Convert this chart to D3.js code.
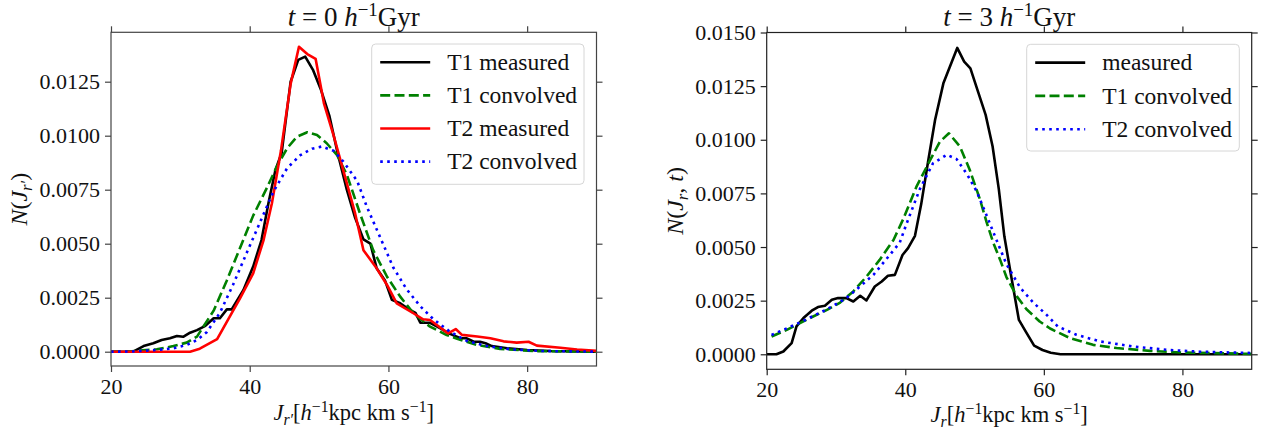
<!DOCTYPE html>
<html>
<head>
<meta charset="utf-8">
<script src="https://cdn.jsdelivr.net/npm/d3@7"></script>
<style>
  body { margin: 0; background: #fff; }
  svg { display: block; }
</style>
</head>
<body>
<div class="chart"></div>
<script>
// ---- data ----
// left panel, t = 0
const t0T1MeasX = [20, 23.2, 24.7, 26.1, 27.3, 28.5, 29.5, 30.4, 31.4, 32.4, 33.6, 34.8, 35.7, 36.7, 37.4, 39.1, 40.5, 41.7, 42.7, 43.7, 44.6, 45.9, 47.0, 48.0, 49.1, 50.3, 51.5, 52.6, 54.0, 55.2, 56.4, 57.4, 58.3, 59.5, 60.5, 61.7, 63.1, 63.9, 64.6, 66.0, 67.5, 68.7, 70.4, 71.3, 72.3, 73.2, 74.0, 74.9, 77.1, 80.0, 83.4, 90];
const t0T1MeasY = [0, 0, 0.00026, 0.00039, 0.00054, 0.00062, 0.00073, 0.00069, 0.00088, 0.0010, 0.0012, 0.00155, 0.00155, 0.00196, 0.00196, 0.00286, 0.00394, 0.00517, 0.00687, 0.0084, 0.0092, 0.0125, 0.01351, 0.01366, 0.01306, 0.0121, 0.0109, 0.0093, 0.0075, 0.0062, 0.0052, 0.0050, 0.00386, 0.0033, 0.0024, 0.00224, 0.00193, 0.0018, 0.00134, 0.00134, 0.00108, 0.00085, 0.00062, 0.00062, 0.00046, 0.00046, 0.00039, 0.00026, 0.00016, 0.00008, 0.00003, 0];

const t0T2MeasX = [20, 31.4, 32.8, 35.3, 38.6, 40.5, 42.0, 43.2, 44.5, 45.9, 47.1, 48.3, 49.5, 50.7, 52.1, 54.0, 55.2, 56.4, 58.3, 59.8, 61.2, 63.6, 65.0, 66.0, 68.6, 69.7, 70.6, 72.8, 74.7, 76.6, 78.5, 80.2, 81.4, 84.8, 87.2, 90];
const t0T2MeasY = [0, 0, 0.00014, 0.00058, 0.00247, 0.00363, 0.00517, 0.00687, 0.0093, 0.0124, 0.01412, 0.01378, 0.01356, 0.0115, 0.0100, 0.0078, 0.0064, 0.0047, 0.00386, 0.00309, 0.00224, 0.00178, 0.0015, 0.00147, 0.00085, 0.00105, 0.00078, 0.00070, 0.00062, 0.00048, 0.00042, 0.00046, 0.00028, 0.00018, 0.00010, 0.00004];

const t0T1ConvX = [20, 23, 26.6, 29, 30.9, 32.4, 34.8, 36.7, 38.6, 40.5, 42.5, 43.9, 45.4, 46.8, 48.3, 49.7, 51.1, 52.6, 54.0, 55.9, 57.8, 59.8, 61.7, 63.6, 66.0, 68.4, 69.9, 72.8, 76.1, 81, 90];
const t0T1ConvY = [0, 0.00002, 0.00011, 0.00026, 0.00042, 0.0007, 0.0019, 0.0033, 0.0048, 0.0063, 0.0076, 0.00857, 0.00942, 0.00995, 0.01016, 0.01003, 0.00965, 0.0091, 0.0082, 0.0064, 0.0047, 0.00347, 0.00255, 0.00178, 0.00116, 0.00077, 0.0006, 0.00031, 0.00013, 0.00003, 0];

const t0T2ConvX = [20, 23, 26.6, 29, 30.9, 32.4, 33.8, 35.7, 37.6, 39.6, 41.5, 43.4, 45.4, 47.3, 49.0, 50.4, 52.1, 53.5, 55.5, 56.9, 58.8, 60.7, 62.6, 64.6, 66.5, 68.9, 71.3, 74.2, 77.6, 82.4, 90];
const t0T2ConvY = [0, 0.00001, 0.00008, 0.00016, 0.00031, 0.00054, 0.0009, 0.0018, 0.0031, 0.0046, 0.0060, 0.0074, 0.0085, 0.0091, 0.0094, 0.0095, 0.0093, 0.0088, 0.0079, 0.0067, 0.0053, 0.0039, 0.0029, 0.0021, 0.0015, 0.00092, 0.0005, 0.00026, 0.00011, 0.00003, 0];

// right panel, t = 3
const t3MeasX = [20, 21.4, 22.4, 23.6, 24.3, 25.3, 26.5, 27.4, 28.4, 29.4, 30.3, 31.5, 32.5, 33.5, 34.4, 35.6, 36.6, 37.5, 38.5, 39.6, 40.4, 41.4, 42.3, 43.3, 44.3, 45.5, 47.5, 48.5, 49.4, 50.5, 51.6, 52.6, 53.5, 54.3, 55.2, 56.4, 57.5, 58.6, 59.8, 61.0, 62.4, 90];
const t3MeasY = [0, 0, 0.00013, 0.00052, 0.0013, 0.00169, 0.00203, 0.0022, 0.00226, 0.00254, 0.00262, 0.00262, 0.00246, 0.00273, 0.00251, 0.00316, 0.00339, 0.00366, 0.0037, 0.00463, 0.00495, 0.00552, 0.0070, 0.0090, 0.01092, 0.01263, 0.01428, 0.01364, 0.01333, 0.01224, 0.01116, 0.0097, 0.0077, 0.0055, 0.0038, 0.0016, 0.0010, 0.0004, 0.0002, 0.00007, 0, 0];

const t3T1ConvX = [20.7, 22.9, 24.8, 26.7, 28.7, 30.6, 32.5, 34.4, 36.3, 38.3, 39.7, 41.6, 43.6, 45.0, 46.3, 47.9, 49.3, 50.8, 51.7, 52.7, 53.7, 54.6, 56.1, 57.5, 59.4, 60.9, 63.8, 67.1, 70.5, 75.3, 80.1, 90];
const t3T1ConvY = [0.00083, 0.00114, 0.00145, 0.00176, 0.00207, 0.00241, 0.00293, 0.00362, 0.0044, 0.00533, 0.0063, 0.0078, 0.00906, 0.00991, 0.0103, 0.00968, 0.0086, 0.0072, 0.0062, 0.0052, 0.0044, 0.0036, 0.0027, 0.0021, 0.00153, 0.0012, 0.00075, 0.00044, 0.00029, 0.00016, 0.00008, 0.00002];

const t3T2ConvX = [20.7, 24.8, 28.7, 31.5, 35.4, 39.2, 40.2, 42.1, 44.0, 46.0, 47.4, 48.9, 50.3, 51.7, 53.2, 54.6, 56.6, 58.5, 60.4, 62.0, 64.7, 68.1, 72.9, 77.7, 82.5, 90];
const t3T2ConvY = [0.0009, 0.00148, 0.0021, 0.00262, 0.0037, 0.0052, 0.0061, 0.0077, 0.0089, 0.0093, 0.0091, 0.0084, 0.0076, 0.0065, 0.0053, 0.0042, 0.0031, 0.0024, 0.00184, 0.0013, 0.00091, 0.0006, 0.00036, 0.00021, 0.00012, 0.00006];

const xTicks = [20, 40, 60, 80];
const yTicksLeft = [0, 0.0025, 0.005, 0.0075, 0.01, 0.0125];
const yTicksRight = [0, 0.0025, 0.005, 0.0075, 0.01, 0.0125, 0.015];

const W = 1268, H = 438;
const FONT = "'Liberation Serif', 'DejaVu Serif', serif";
const LW = 2.6;

const svg = d3.select(".chart").append("svg")
    .attr("width", W)
    .attr("height", H)
    .style("font-family", FONT);

const zip = (xs, ys) => xs.map((x, i) => [x, ys[i]]);

// write simple math text: segments with italic / sup / sub flags
function mathText(sel, segs, size) {
    let shift = 0;
    segs.forEach((s) => {
        const fs = s.sup || s.sub ? size * 0.7 : size;
        const target = s.sup ? -size * 0.36 : s.sub ? size * 0.22 : 0;
        sel.append("tspan")
            .attr("dy", target - shift)
            .attr("font-size", fs)
            .attr("font-style", s.i ? "italic" : "normal")
            .text(s.t);
        shift = target;
    });
}

function drawPanel(p) {
    const x = d3.scaleLinear().domain([20, 90]).range([p.left, p.right]);
    const y = d3.scaleLinear().domain(p.yDomain).range([p.bottom, p.top]);
    const g = svg.append("g");

    const clipId = "clip" + p.id;
    svg.append("clipPath").attr("id", clipId)
        .append("rect")
        .attr("x", p.left).attr("y", p.top)
        .attr("width", p.right - p.left).attr("height", p.bottom - p.top);

    const axisStyle = (a) => {
        a.attr("font-family", null).attr("font-size", null);
        a.select(".domain").remove();
        a.selectAll(".tick line").attr("stroke", p.axisColor).attr("stroke-width", 1.2);
        a.selectAll(".tick text")
            .style("font-family", FONT)
            .style("font-size", "22px")
            .attr("fill", "#111");
    };

    g.append("g").attr("transform", `translate(0,${p.bottom})`)
        .call(d3.axisBottom(x).tickValues(xTicks).tickFormat(d3.format("d")).tickSize(6).tickPadding(6))
        .call(axisStyle);
    g.append("g").attr("transform", `translate(0,${p.top})`)
        .call(d3.axisTop(x).tickValues(xTicks).tickFormat("").tickSize(6))
        .call(axisStyle);
    g.append("g").attr("transform", `translate(${p.left},0)`)
        .call(d3.axisLeft(y).tickValues(p.yTicks).tickFormat(d3.format(".4f")).tickSize(6).tickPadding(5))
        .call(axisStyle);
    g.append("g").attr("transform", `translate(${p.right},0)`)
        .call(d3.axisRight(y).tickValues(p.yTicks).tickFormat("").tickSize(6))
        .call(axisStyle);

    const line = d3.line().x((d) => x(d[0])).y((d) => y(d[1]));
    const lines = g.append("g").attr("clip-path", `url(#${clipId})`);
    p.series.forEach((s) => {
        lines.append("path")
            .datum(s.data)
            .attr("fill", "none")
            .attr("stroke", s.color)
            .attr("stroke-width", LW)
            .attr("stroke-linejoin", "round")
            .attr("stroke-dasharray", s.dash || null)
            .attr("d", line);
    });

    g.append("rect")
        .attr("x", p.left).attr("y", p.top)
        .attr("width", p.right - p.left).attr("height", p.bottom - p.top)
        .attr("fill", "none").attr("stroke", p.axisColor).attr("stroke-width", 1.2);

    // legend
    const lg = g.append("g");
    lg.append("rect")
        .attr("x", p.legend.x).attr("y", p.legend.y)
        .attr("width", p.legend.w).attr("height", p.legend.h)
        .attr("rx", 4)
        .attr("fill", "#fff").attr("fill-opacity", 0.8)
        .attr("stroke", "#d6d6d6").attr("stroke-width", 1);
    p.series.forEach((s, i) => {
        const ry = p.legend.y + 18.3 + i * p.legend.step;
        const lx = p.legend.x + 8.5;
        lg.append("line")
            .attr("x1", lx).attr("x2", lx + 50)
            .attr("y1", ry).attr("y2", ry)
            .attr("stroke", s.color).attr("stroke-width", LW)
            .attr("stroke-dasharray", s.dash || null);
        lg.append("text")
            .attr("x", lx + 67).attr("y", ry).attr("dy", "0.33em")
            .style("font-size", "23.5px").attr("fill", "#111")
            .text(s.label);
    });

    const cx = (p.left + p.right) / 2;
    svg.append("text").attr("x", cx).attr("y", 26)
        .attr("text-anchor", "middle").attr("fill", "#111")
        .call(mathText, p.title, 27);
    svg.append("text").attr("x", cx).attr("y", p.xLabelY)
        .attr("text-anchor", "middle").attr("fill", "#111")
        .call(mathText, p.xLabel, 22.5);
    svg.append("text")
        .attr("transform", `translate(${p.yLabelX},${(p.top + p.bottom) / 2}) rotate(-90)`)
        .attr("text-anchor", "middle").attr("fill", "#111")
        .call(mathText, p.yLabel, 24);
}

drawPanel({
    id: "L",
    left: 111, right: 596.5, top: 32.3, bottom: 366,
    yDomain: [-0.000662, 0.014787],
    yTicks: yTicksLeft,
    axisColor: "#444",
    series: [
        { label: "T1 measured", color: "#000", data: zip(t0T1MeasX, t0T1MeasY) },
        { label: "T1 convolved", color: "green", dash: "10,4.3", data: zip(t0T1ConvX, t0T1ConvY) },
        { label: "T2 measured", color: "red", data: zip(t0T2MeasX, t0T2MeasY) },
        { label: "T2 convolved", color: "blue", dash: "2.6,4.4", data: zip(t0T2ConvX, t0T2ConvY) },
    ],
    legend: { x: 371.7, y: 44, w: 212.3, h: 140.3, step: 33.1 },
    title: [{ t: "t", i: true }, { t: " = 0 " }, { t: "h", i: true }, { t: "−1", sup: true }, { t: "Gyr" }],
    xLabel: [{ t: "J", i: true }, { t: "r′", i: true, sub: true }, { t: "[" }, { t: "h", i: true }, { t: "−1", sup: true }, { t: "kpc km s" }, { t: "−1", sup: true }, { t: "]" }],
    xLabelY: 420,
    yLabel: [{ t: "N", i: true }, { t: "(" }, { t: "J", i: true }, { t: "r′", i: true, sub: true }, { t: ")" }],
    yLabelX: 27,
});

drawPanel({
    id: "R",
    left: 766.7, right: 1251.7, top: 32.5, bottom: 369.3,
    yDomain: [-0.0007, 0.015],
    yTicks: yTicksRight,
    axisColor: "#222",
    series: [
        { label: "measured", color: "#000", data: zip(t3MeasX, t3MeasY) },
        { label: "T1 convolved", color: "green", dash: "10,4.3", data: zip(t3T1ConvX, t3T1ConvY) },
        { label: "T2 convolved", color: "blue", dash: "2.6,4.4", data: zip(t3T2ConvX, t3T2ConvY) },
    ],
    legend: { x: 1026.7, y: 44.3, w: 212.6, h: 106.7, step: 33.3 },
    title: [{ t: "t", i: true }, { t: " = 3 " }, { t: "h", i: true }, { t: "−1", sup: true }, { t: "Gyr" }],
    xLabel: [{ t: "J", i: true }, { t: "r", i: true, sub: true }, { t: "[" }, { t: "h", i: true }, { t: "−1", sup: true }, { t: "kpc km s" }, { t: "−1", sup: true }, { t: "]" }],
    xLabelY: 422,
    yLabel: [{ t: "N", i: true }, { t: "(" }, { t: "J", i: true }, { t: "r", i: true, sub: true }, { t: ", " }, { t: "t", i: true }, { t: ")" }],
    yLabelX: 683,
});
</script>
</body>
</html>
